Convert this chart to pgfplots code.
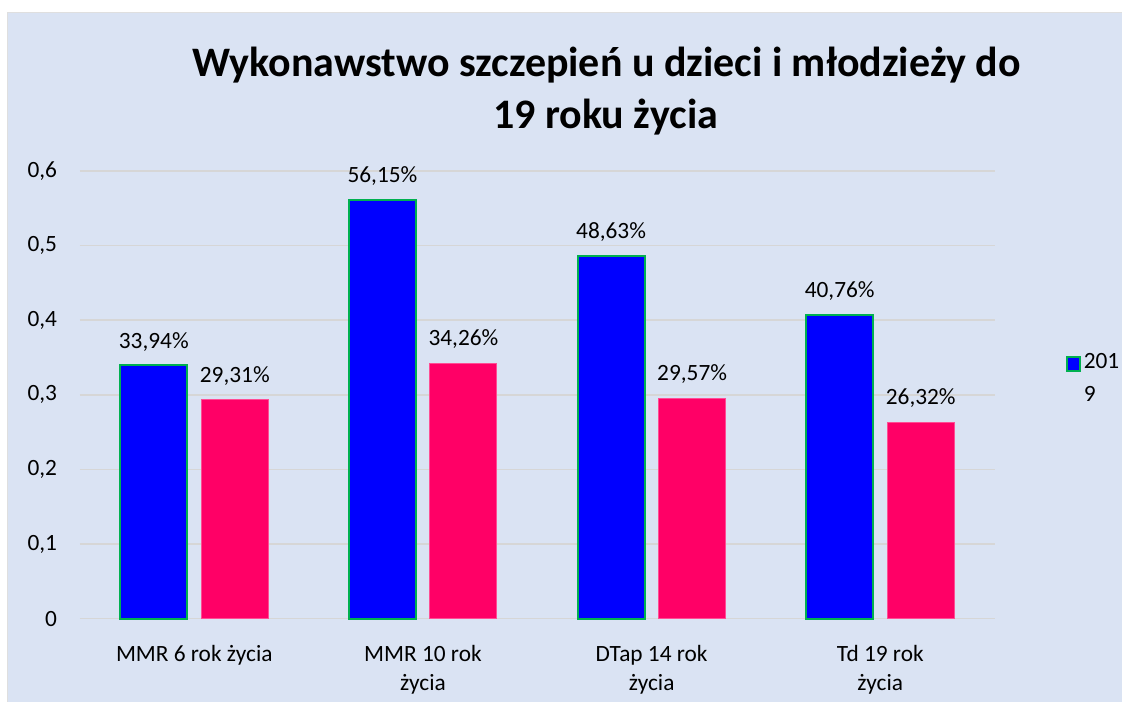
\documentclass[border=0pt]{standalone}
\usepackage{pgfplots}
\pgfplotsset{compat=1.18}
\usepackage{fontspec}
\setmainfont{Carlito}

\definecolor{bgblue}{HTML}{DAE3F3}
\definecolor{gridc}{HTML}{D6D6D6}
\definecolor{barblue}{HTML}{0000FF}
\definecolor{bargreen}{HTML}{00B050}
\definecolor{barpink}{HTML}{FF0066}
\definecolor{pinkedge}{HTML}{FF4D94}

\newcommand{\lblfont}{\fontsize{17.5}{21.75}\selectfont}

\begin{document}
\begin{tikzpicture}[x=0.75pt,y=0.75pt]
% page and chart background (1 unit = 1 px of the reference)
\path (0,0) rectangle (1122,702);
\fill[bgblue] (8,0) rectangle (1122,689);
\draw[gray!25, line width=0.75pt] (8,0) -- (8,689) -- (1122,689);

% title
\node[anchor=base, font=\fontsize{31.5}{39}\selectfont\bfseries] at (607,625)
  {Wykonawstwo szczepień u dzieci i młodzieży do};
\node[anchor=base, font=\fontsize{31.5}{39}\selectfont\bfseries] at (606,573)
  {19 roku życia};

\begin{axis}[
  at={(60pt,62.25pt)}, anchor=south west,
  scale only axis,
  width=686.25pt, height=336pt,
  xmin=-0.5, xmax=3.5,
  ymin=0, ymax=0.6,
  clip=false,
  axis line style={draw=none},
  tick style={draw=none},
  ymajorgrids,
  grid style={gridc, line width=1.1pt},
  ytick={0,0.1,0.2,0.3,0.4,0.5,0.6},
  yticklabels={0,{0,1},{0,2},{0,3},{0,4},{0,5},{0,6}},
  yticklabel style={font=\lblfont, inner sep=0pt, xshift=-17pt},
  xtick={0,1,2,3},
  xticklabels={MMR 6 rok życia, {MMR 10 rok\\życia}, {DTap 14 rok\\życia}, {Td 19 rok\\życia}},
  xticklabel style={font=\lblfont, align=center, anchor=north, inner sep=0pt, yshift=-15.5pt},
  ybar,
  bar width=50.25pt,
  point meta=explicit symbolic,
  nodes near coords,
  nodes near coords style={font=\lblfont, text=black, anchor=base, inner sep=0pt, yshift=13pt},
  legend style={at={(1.0776,0.60)}, anchor=north west, draw=none, fill=none,
    inner sep=0pt, font=\lblfont, nodes={align=left}},
  legend image code/.code={\draw[#1, line width=1.5pt] (0pt,5.5pt) rectangle (10pt,15.5pt);},
]
\addplot[fill=barblue, draw=bargreen, line width=1.5pt, bar shift=-30.4pt]
  coordinates {(0,0.3394) [33,94\%] (1,0.5615) [56,15\%] (2,0.4863) [48,63\%] (3,0.4076) [40,76\%]};
\addplot[fill=barpink, draw=pinkedge, line width=0.75pt, bar shift=30.4pt]
  coordinates {(0,0.2931) [29,31\%] (1,0.3426) [34,26\%] (2,0.2957) [29,57\%] (3,0.2632) [26,32\%]};
\legend{201\\[3pt]9}
\end{axis}
\end{tikzpicture}
\end{document}
